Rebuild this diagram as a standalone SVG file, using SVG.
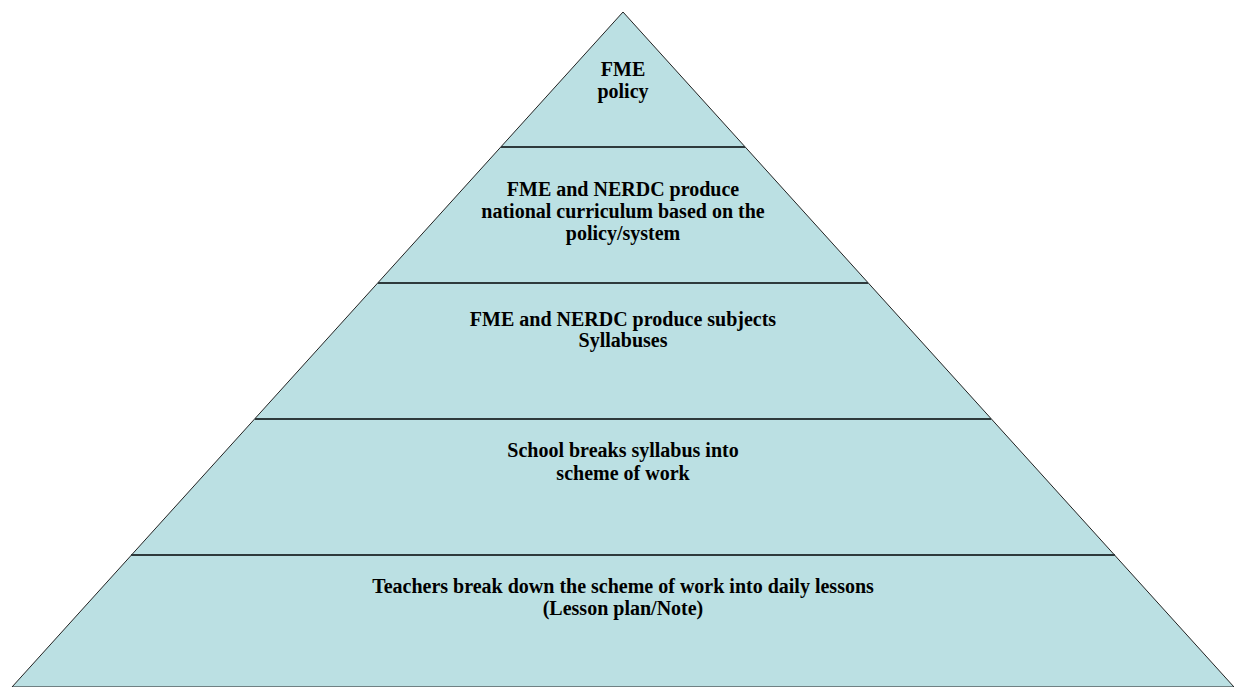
<svg xmlns="http://www.w3.org/2000/svg" width="1234" height="687" viewBox="0 0 1234 687">
<style>
.t{font-family:"Liberation Serif","Times New Roman",serif;font-weight:bold;font-size:20px;fill:#000;text-anchor:middle}
.sep{stroke:#2e3a3c;stroke-width:2}
</style>
<rect width="1234" height="687" fill="#fff"/>
<g id="pyramid">
<polygon points="623,12 12,687 1234,687" fill="#bbe0e3" stroke="#222" stroke-width="1"/>
</g>
<g id="separators">
<line class="sep" x1="501" y1="147" x2="745" y2="147"/>
<line class="sep" x1="378" y1="283" x2="868" y2="283"/>
<line class="sep" x1="255" y1="419" x2="991" y2="419"/>
<line class="sep" x1="131" y1="555" x2="1115" y2="555"/>
</g>
<g id="level1"><text class="t" x="623" y="76">FME</text><text class="t" x="623" y="98">policy</text></g>
<g id="level2"><text class="t" x="623" y="196">FME and NERDC produce</text><text class="t" x="623" y="218">national curriculum based on the</text><text class="t" x="623" y="240">policy/system</text></g>
<g id="level3"><text class="t" x="623" y="326">FME and NERDC produce subjects</text><text class="t" x="623" y="347">Syllabuses</text></g>
<g id="level4"><text class="t" x="623" y="457">School breaks syllabus into</text><text class="t" x="623" y="480">scheme of work</text></g>
<g id="level5"><text class="t" x="623" y="593">Teachers break down the scheme of work into daily lessons</text><text class="t" x="623" y="615">(Lesson plan/Note)</text></g>
</svg>
